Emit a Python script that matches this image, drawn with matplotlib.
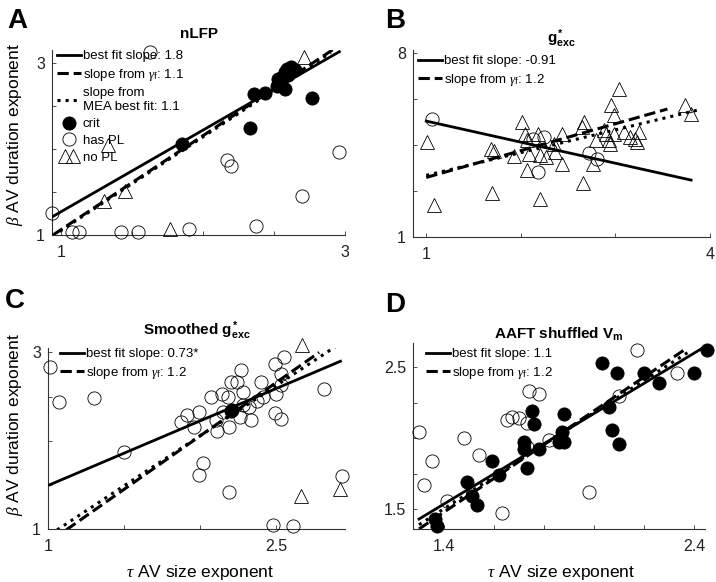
import numpy as np
import matplotlib.pyplot as plt
from matplotlib.legend_handler import HandlerLine2D

plt.rcParams['font.family'] = 'Liberation Sans'
plt.rcParams['mathtext.fontset'] = 'custom'
plt.rcParams['mathtext.rm'] = 'Liberation Sans'
plt.rcParams['mathtext.it'] = 'Liberation Serif:italic'
plt.rcParams['mathtext.bf'] = 'Liberation Sans:bold'

# ---- panel A: nLFP
a_crit_x = [1.85, 2.36, 2.44, 2.33, 2.52, 2.55, 2.58, 2.59, 2.62, 2.65, 2.55, 2.58, 2.53, 2.60, 2.77]
a_crit_y = [2.06, 2.64, 2.65, 2.24, 2.73, 2.83, 2.89, 2.93, 2.95, 2.92, 2.75, 2.70, 2.81, 2.86, 2.59]
a_pl_x = [0.935, 1.075, 1.13, 1.42, 1.54, 1.90, 2.37, 2.17, 2.20, 2.70, 2.96, 1.63]
a_pl_y = [1.25, 1.04, 1.04, 1.04, 1.04, 1.07, 1.11, 1.87, 1.80, 1.45, 1.97, 3.13]
a_nopl_x = [1.33, 1.30, 1.45, 1.77, 2.71]
a_nopl_y = [2.05, 1.39, 1.51, 1.07, 3.07]
a_best = ([0.937, 2.96], [1.21, 3.13])
a_gamma = ([0.944, 2.92], [1.0, 3.16])
a_mea = ([0.944, 2.90], [0.99, 3.12])

# ---- panel B: g*exc
b_pl_x = [1.065, 2.13, 2.25, 2.18, 2.72, 2.81]
b_pl_y = [5.51, 4.75, 4.82, 3.49, 4.21, 3.99]
b_nopl_x = [1.01, 1.08, 1.68, 1.72, 1.69, 1.93, 2.01, 2.04, 2.06, 2.07, 2.09, 2.18, 2.20,
            2.27, 2.20, 2.35, 2.36, 2.43, 2.44, 2.67, 2.65, 2.66, 2.76, 2.79, 2.88, 2.90,
            2.93, 2.94, 2.95, 2.99, 3.04, 2.98, 3.09, 3.15, 3.21, 3.25, 3.23, 3.74, 3.80]
b_nopl_y = [4.62, 2.22, 4.37, 4.28, 2.69, 4.08, 5.39, 4.94, 4.69, 3.55, 4.16, 4.94, 4.12,
            4.05, 2.43, 4.56, 4.24, 3.80, 4.94, 5.39, 5.20, 3.07, 3.80, 4.69, 5.07, 4.94,
            4.69, 4.56, 6.02, 5.64, 6.66, 4.94, 5.01, 4.81, 4.75, 5.01, 4.62, 6.02, 5.70]
b_best = ([1.0, 3.80], [5.42, 3.17])
b_gamma = ([1.0, 3.55], [3.27, 5.88])
b_mea = ([1.0, 3.86], [3.35, 5.83])

# ---- panel C: smoothed g*exc
c_crit_x = [2.20, 2.21]
c_crit_y = [2.34, 2.35]
c_pl_x = [1.01, 1.07, 1.30, 1.50, 1.87, 1.91, 1.96, 1.99, 2.07, 2.10, 2.11, 2.14, 2.15,
          2.18, 2.19, 2.20, 2.24, 2.27, 2.28, 2.26, 2.28, 2.32, 2.33, 2.40, 2.41, 2.37,
          2.49, 2.55, 2.50, 2.53, 2.53, 2.49, 2.53, 2.02, 1.99, 2.19, 2.48, 2.61, 2.81, 2.93]
c_pl_y = [2.83, 2.44, 2.48, 1.87, 2.21, 2.29, 2.16, 2.33, 2.50, 2.23, 2.11, 2.53, 2.33,
          2.50, 2.16, 2.66, 2.66, 2.80, 2.55, 2.27, 2.40, 2.38, 2.24, 2.66, 2.50, 2.45,
          2.87, 2.95, 2.53, 2.76, 2.63, 2.31, 2.25, 1.75, 1.61, 1.42, 1.04, 1.03, 2.58, 1.60]
c_nopl_x = [2.67, 2.66, 2.92]
c_nopl_y = [3.08, 1.37, 1.45]
c_best = ([1.01, 2.92], [1.50, 2.90])
c_gamma = ([1.12, 2.78], [0.99, 3.00])
c_mea = ([1.06, 2.90], [0.99, 3.08])

# ---- panel D: AAFT shuffled Vm
d_crit_x = [1.365, 1.37, 1.49, 1.51, 1.53, 1.59, 1.62, 1.72, 1.72, 1.73, 1.75, 1.76, 1.78,
            1.87, 1.86, 1.88, 1.88, 2.03, 2.06, 2.07, 2.09, 2.10, 2.20, 2.26, 2.40, 2.45]
d_crit_y = [1.43, 1.38, 1.69, 1.59, 1.53, 1.84, 1.74, 1.97, 1.92, 1.79, 2.19, 2.10, 1.92,
            2.04, 1.97, 1.97, 2.17, 2.53, 2.22, 2.06, 2.46, 1.96, 2.46, 2.39, 2.46, 2.62]
d_pl_x = [1.30, 1.35, 1.32, 1.41, 1.48, 1.54, 1.63, 1.65, 1.67, 1.70, 1.73, 1.74, 1.78,
          1.73, 1.82, 1.98, 2.10, 2.17, 2.33]
d_pl_y = [2.04, 1.84, 1.67, 1.56, 2.00, 1.88, 1.47, 2.13, 2.15, 2.14, 2.11, 2.33, 2.31,
          1.94, 1.99, 1.62, 2.30, 2.62, 2.46]
d_best = ([1.30, 2.43], [1.43, 2.63])
d_gamma = ([1.30, 2.36], [1.36, 2.62])
d_mea = ([1.30, 2.39], [1.39, 2.62])

W, H = 716, 582
fig = plt.figure(figsize=(W / 100, H / 100), dpi=100)


def box(l, r, t, b):
    return [l / W, 1 - b / H, (r - l) / W, (b - t) / H]


def setup(ax, xlim, ylim, xt, yt, xl, yl):
    ax.set_xlim(xlim)
    ax.set_ylim(ylim)
    ax.set_xticks(xt)
    ax.set_yticks(yt)
    ax.set_xticklabels([xl[0]] + [''] * (len(xt) - 2) + [xl[1]])
    ax.set_yticklabels([yl[0]] + [''] * (len(yt) - 2) + [yl[1]])
    ax.spines['top'].set_visible(False)
    ax.spines['right'].set_visible(False)
    for s in ['left', 'bottom']:
        ax.spines[s].set_color('#333333')
        ax.spines[s].set_linewidth(0.8)
    ax.tick_params(direction='in', length=3, width=0.6, colors='#333333',
                   labelsize=11.5, labelcolor='#222222')
    ax.tick_params(axis='x', pad=7)
    ax.tick_params(axis='y', pad=5)


def draw(ax, best, gamma, mea, crit=None, pl=None, nopl=None):
    h = {}
    h['best'], = ax.plot(*best, color='k', lw=2, zorder=3)
    h['gamma'], = ax.plot(*gamma, color='k', lw=2.2, ls='--', zorder=3)
    h['mea'], = ax.plot(*mea, color='k', lw=2.2, ls=':', zorder=3)
    if crit is not None:
        h['crit'], = ax.plot(*crit, 'o', ms=9.5, mfc='k', mec='k', mew=0.6,
                             ls='none', clip_on=False, zorder=4)
    if pl is not None:
        h['pl'], = ax.plot(*pl, 'o', ms=9.5, mfc='none', mec='k', mew=0.6,
                           ls='none', clip_on=False, zorder=4)
    if nopl is not None:
        h['nopl'], = ax.plot(*nopl, '^', ms=10, mfc='none', mec='k', mew=0.6,
                             ls='none', clip_on=False, zorder=4)
    return h


def legend(ax, handles, labels, anchor, hmap=None):
    leg = ax.legend(handles, labels, loc='upper left', bbox_to_anchor=anchor,
                    frameon=False, fontsize=9.5, handlelength=1.8,
                    handletextpad=0.15, borderpad=0, borderaxespad=0,
                    labelspacing=0.35, numpoints=1, handler_map=hmap)
    leg.set_zorder(6)
    return leg


# A
axA = fig.add_axes(box(52, 345, 50, 235))
setup(axA, (0.937, 3.0), (1, 3.15), [1, 1.5, 2, 2.5, 3], [1, 1.5, 2, 2.5, 3],
      ('1', '3'), ('1', '3'))
hA = draw(axA, a_best, a_gamma, a_mea, (a_crit_x, a_crit_y), (a_pl_x, a_pl_y),
          (a_nopl_x, a_nopl_y))
axA.set_title('nLFP', fontsize=11, fontweight='bold', pad=9)
legend(axA, [hA['best'], hA['gamma'], hA['mea'], hA['crit'], hA['pl'], hA['nopl']],
       ['best fit slope: 1.8', r'slope from $\gamma_\mathrm{f}$: 1.1',
        'slope from\nMEA best fit: 1.1', 'crit', 'has PL', 'no PL'],
       (5 / 293, 1.0),
       {hA['nopl']: HandlerLine2D(numpoints=2, marker_pad=0.62)})

# B
axB = fig.add_axes(box(413, 710, 50, 237))
setup(axB, (0.86, 4.0), (1, 8.13), [1, 2, 3, 4], np.linspace(1, 8, 5),
      ('1', '4'), ('1', '8'))
hB = draw(axB, b_best, b_gamma, b_mea, None, (b_pl_x, b_pl_y), (b_nopl_x, b_nopl_y))
axB.set_title(r'$\mathbf{g^*_{exc}}$', fontsize=11, pad=5)
legend(axB, [hB['best'], hB['gamma']],
       ['best fit slope: -0.91', r'slope from $\gamma_\mathrm{f}$: 1.2'],
       (5 / 297, 1 - 5 / 187))

# C
axC = fig.add_axes(box(48, 345, 348, 529))
setup(axC, (1, 2.95), (1, 3.05), [1, 1.5, 2, 2.5], [1, 1.5, 2, 2.5, 3],
      ('1', '2.5'), ('1', '3'))
hC = draw(axC, c_best, c_gamma, c_mea, (c_crit_x, c_crit_y), (c_pl_x, c_pl_y),
          (c_nopl_x, c_nopl_y))
axC.set_title(r'Smoothed $\mathbf{g^*_{exc}}$', fontsize=11, fontweight='bold', pad=9.5)
legend(axC, [hC['best'], hC['gamma']],
       ['best fit slope: 0.73*', r'slope from $\gamma_\mathrm{f}$: 1.2'],
       (12 / 297, 1.0))

# D
axD = fig.add_axes(box(413, 705, 343, 529))
setup(axD, (1.276, 2.444), (1.36, 2.67), [1.4, 1.6, 1.8, 2.0, 2.2, 2.4],
      [1.5, 1.75, 2.0, 2.25, 2.5], ('1.4', '2.4'), ('1.5', '2.5'))
hD = draw(axD, d_best, d_gamma, d_mea, (d_crit_x, d_crit_y), (d_pl_x, d_pl_y))
axD.set_title(r'AAFT shuffled V$_\mathbf{m}$', fontsize=11, fontweight='bold', pad=1)
legend(axD, [hD['best'], hD['gamma']],
       ['best fit slope: 1.1', r'slope from $\gamma_\mathrm{f}$: 1.2'],
       (13 / 292, 1 - 5 / 186))

# axis labels
ylab = r'$\beta$ AV duration exponent'
xlab = r'$\tau$ AV size exponent'
fig.text(15 / W, 1 - 135 / H, ylab, rotation=90, ha='center', va='center', fontsize=12.5)
fig.text(15 / W, 1 - 425 / H, ylab, rotation=90, ha='center', va='center', fontsize=12.5)
fig.text(200 / W, 1 - 572 / H, xlab, ha='center', va='center', fontsize=12.5)
fig.text(561 / W, 1 - 572 / H, xlab, ha='center', va='center', fontsize=12.5)

# panel letters
for lab, x, y in [('A', 7, 8), ('B', 385, 8), ('C', 5, 288), ('D', 385, 292)]:
    fig.text(x / W, 1 - y / H, lab, fontsize=20, fontweight='bold', ha='left', va='top')

fig.savefig('out.png', dpi=100)
